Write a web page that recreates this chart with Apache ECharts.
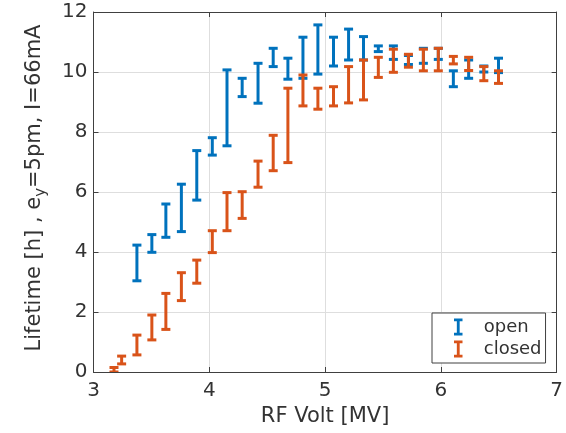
<!DOCTYPE html>
<html>
<head>
<meta charset="utf-8">
<script src="https://cdn.jsdelivr.net/npm/echarts@6/dist/echarts.min.js"></script>
<style>
  html, body { margin: 0; padding: 0; background: #fff; }
  #chart { width: 566px; height: 433px; }
</style>
</head>
<body>
<div id="chart"></div>
<script>
// RF voltage scan: beam lifetime ranges (lower / upper end of each error bar)
const openVolt  = [3.375, 3.504, 3.625, 3.759, 3.892, 4.026, 4.153, 4.284, 4.421, 4.552, 4.679, 4.809, 4.938, 5.073, 5.203, 5.332, 5.46, 5.59, 5.72, 5.849, 5.978, 6.108, 6.24, 6.371, 6.498];
const openLow   = [3.04, 3.99, 4.49, 4.68, 5.73, 7.23, 7.54, 9.18, 8.96, 10.18, 9.76, 9.79, 9.93, 10.20, 10.40, 10.40, 10.68, 10.42, 10.25, 10.29, 10.42, 9.51, 9.79, 10.00, 9.98];
const openHigh  = [4.23, 4.58, 5.60, 6.26, 7.38, 7.81, 10.07, 9.79, 10.29, 10.79, 10.46, 11.16, 11.57, 11.16, 11.43, 11.18, 10.87, 10.87, 10.55, 10.79, 10.79, 10.04, 10.40, 10.20, 10.46];

const closedVolt = [3.177, 3.243, 3.375, 3.504, 3.625, 3.759, 3.892, 4.026, 4.153, 4.284, 4.421, 4.552, 4.679, 4.809, 4.938, 5.073, 5.203, 5.332, 5.46, 5.59, 5.72, 5.849, 5.978, 6.108, 6.24, 6.371, 6.498];
const closedLow  = [0.00, 0.27, 0.57, 1.07, 1.42, 2.38, 2.96, 3.98, 4.71, 5.12, 6.16, 6.71, 6.98, 8.87, 8.76, 8.87, 8.97, 9.07, 9.82, 9.99, 10.16, 10.04, 10.04, 10.27, 10.05, 9.71, 9.62];
const closedHigh = [0.15, 0.53, 1.23, 1.90, 2.62, 3.31, 3.73, 4.71, 5.98, 6.01, 7.03, 7.89, 9.46, 9.90, 9.46, 9.51, 10.18, 10.40, 10.49, 10.76, 10.59, 10.76, 10.79, 10.52, 10.49, 10.18, 10.04];

const xTicks = [3, 4, 5, 6, 7];
const yTicks = [0, 2, 4, 6, 8, 10, 12];

const BLUE = '#0072BD';
const ORANGE = '#D95319';
const AXIS = '#404040';
const TEXT = '#333333';
const FONT = 'DejaVu Sans';

function rows(xs, lo, hi) {
  return xs.map((x, i) => [x, lo[i], hi[i]]);
}

// error bar: vertical stem with a horizontal cap at each end
function errorBar(color) {
  return function (params, api) {
    const x = api.value(0);
    const pLo = api.coord([x, api.value(1)]);
    const pHi = api.coord([x, api.value(2)]);
    const half = 4.5;
    const style = { stroke: color, lineWidth: 3, lineCap: 'butt' };
    return {
      type: 'group',
      children: [
        { type: 'line', shape: { x1: pLo[0], y1: pLo[1], x2: pHi[0], y2: pHi[1] }, style: style },
        { type: 'line', shape: { x1: pHi[0] - half, y1: pHi[1], x2: pHi[0] + half, y2: pHi[1] }, style: style },
        { type: 'line', shape: { x1: pLo[0] - half, y1: pLo[1], x2: pLo[0] + half, y2: pLo[1] }, style: style }
      ]
    };
  };
}

const ibeam = 'path://M0,0 H9 V3 H6 V15 H9 V18 H0 V15 H3 V3 H0 Z';

const chart = echarts.init(document.getElementById('chart'), null, { renderer: 'canvas' });

const axisCommon = {
  axisLine: { show: true, onZero: false, lineStyle: { color: AXIS, width: 1 } },
  axisTick: { show: true, inside: true, length: 5, lineStyle: { color: AXIS } },
};

chart.setOption({
  animation: false,
  backgroundColor: '#fff',
  grid: { left: 93.5, right: 8.5, top: 12, bottom: 61, containLabel: false },
  xAxis: [
    Object.assign({
      type: 'value', min: xTicks[0], max: xTicks[xTicks.length - 1], interval: 1,
      position: 'bottom',
      axisLabel: { color: TEXT, fontFamily: FONT, fontSize: 20, margin: 9 },
      splitLine: { show: true, lineStyle: { color: '#dedede', width: 1 } },
      name: 'RF Volt [MV]', nameLocation: 'middle', nameGap: 30,
      nameTextStyle: { color: TEXT, fontFamily: FONT, fontSize: 21 }
    }, axisCommon),
    Object.assign({
      type: 'value', min: xTicks[0], max: xTicks[xTicks.length - 1], interval: 1,
      position: 'top', axisLabel: { show: false }, splitLine: { show: false }
    }, axisCommon)
  ],
  yAxis: [
    Object.assign({
      type: 'value', min: yTicks[0], max: yTicks[yTicks.length - 1], interval: 2,
      position: 'left',
      axisLabel: { color: TEXT, fontFamily: FONT, fontSize: 20, margin: 6 },
      splitLine: { show: true, lineStyle: { color: '#dedede', width: 1 } }
    }, axisCommon),
    Object.assign({
      type: 'value', min: yTicks[0], max: yTicks[yTicks.length - 1], interval: 2,
      position: 'right', axisLabel: { show: false }, splitLine: { show: false }
    }, axisCommon)
  ],
  legend: {
    orient: 'vertical',
    left: 432, top: 313,
    padding: [5, 4, 5, 22],
    itemGap: 4,
    itemWidth: 9, itemHeight: 17,
    backgroundColor: '#fff',
    borderColor: AXIS, borderWidth: 1,
    formatter: '{t|{name}}',
    textStyle: {
      color: TEXT, fontFamily: FONT, fontSize: 18,
      rich: { t: { color: TEXT, fontFamily: FONT, fontSize: 18, padding: [0, 0, 0, 16] } }
    },
    data: [
      { name: 'open', icon: ibeam, itemStyle: { color: BLUE } },
      { name: 'closed', icon: ibeam, itemStyle: { color: ORANGE } }
    ]
  },
  graphic: [{
    type: 'text',
    x: 35, y: 188,
    rotation: Math.PI / 2,
    style: {
      text: '{a|Lifetime [h] , e}{s|y}{a|=5pm, I=66mA}',
      align: 'center', verticalAlign: 'middle',
      fill: TEXT,
      rich: {
        a: { fontFamily: FONT, fontSize: 21, lineHeight: 28, verticalAlign: 'middle', fill: TEXT },
        s: { fontFamily: FONT, fontSize: 15, lineHeight: 16, verticalAlign: 'bottom', fill: TEXT }
      }
    }
  }],
  series: [
    {
      name: 'open', type: 'custom', clip: true,
      itemStyle: { color: BLUE },
      encode: { x: 0, y: [1, 2] },
      renderItem: errorBar(BLUE),
      data: rows(openVolt, openLow, openHigh),
      z: 2
    },
    {
      name: 'closed', type: 'custom', clip: true,
      itemStyle: { color: ORANGE },
      encode: { x: 0, y: [1, 2] },
      renderItem: errorBar(ORANGE),
      data: rows(closedVolt, closedLow, closedHigh),
      z: 3
    }
  ]
});
</script>
</body>
</html>
